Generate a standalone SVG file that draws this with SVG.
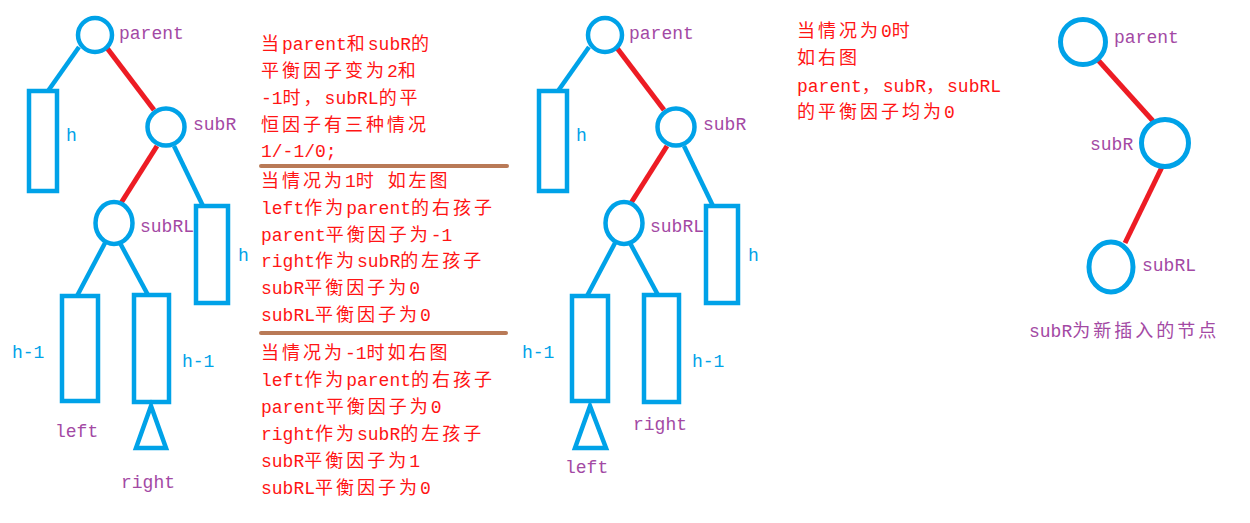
<svg xmlns="http://www.w3.org/2000/svg" width="1250" height="523" viewBox="0 0 1250 523">
<style>
.t{font-family:"Liberation Mono","Noto Sans CJK SC",monospace;font-size:18px}
.r{fill:#ff1414}
.p{fill:#a349a4}
.b{fill:#00a2e8}
.c{letter-spacing:3px}
.n{fill:none;stroke:#00a2e8;stroke-width:4.5}
.e{stroke:#00a2e8;stroke-width:4.5;fill:none}
.re{stroke:#ed1c24;stroke-width:5;fill:none}
.br{stroke:#b97a57;stroke-width:4;stroke-linecap:round}
</style>
<rect width="1250" height="523" fill="#ffffff"/>

<!-- connectors -->
<g id="connectors">
  <!-- left tree -->
  <line class="e" x1="79" y1="47" x2="48" y2="91"/>
  <line class="re" x1="107" y1="48" x2="154" y2="110"/>
  <line class="re" x1="157" y1="146" x2="121" y2="203"/>
  <line class="e" x1="174" y1="146" x2="203" y2="206"/>
  <line class="e" x1="105" y1="243" x2="77" y2="296"/>
  <line class="e" x1="120" y1="243" x2="148" y2="295"/>
  <!-- middle tree -->
  <line class="e" x1="589" y1="47" x2="558" y2="91"/>
  <line class="re" x1="617" y1="48" x2="664" y2="110"/>
  <line class="re" x1="667" y1="146" x2="631" y2="203"/>
  <line class="e" x1="684" y1="146" x2="713" y2="206"/>
  <line class="e" x1="615" y1="243" x2="587" y2="296"/>
  <line class="e" x1="630" y1="243" x2="658" y2="295"/>
  <!-- right tree -->
  <line class="re" x1="1098" y1="60" x2="1153" y2="121"/>
  <line class="re" x1="1162" y1="167" x2="1125" y2="243"/>
</g>

<!-- left tree -->
<g id="L-parent"><circle class="n" cx="95" cy="35" r="17"/><text class="t p" x="119" y="39">parent</text></g>
<g id="L-h"><rect class="n" x="29" y="91" width="28" height="100"/><text class="t b" x="66" y="141">h</text></g>
<g id="L-subR"><circle class="n" cx="166" cy="127" r="18.5"/><text class="t p" x="193" y="130">subR</text></g>
<g id="L-subRL"><ellipse class="n" cx="114" cy="223" rx="18.5" ry="21"/><text class="t p" x="140" y="232">subRL</text></g>
<g id="L-h2"><rect class="n" x="196" y="206" width="32" height="97"/><text class="t b" x="238" y="261">h</text></g>
<g id="L-left"><rect class="n" x="62" y="296" width="36" height="105"/><text class="t b" x="12" y="358">h-1</text><text class="t p" x="55" y="437">left</text></g>
<g id="L-right"><rect class="n" x="134" y="295" width="35" height="107"/><text class="t b" x="182" y="367">h-1</text></g>
<g id="L-new"><polygon class="n" points="151,406 136,448 166,448"/><text class="t p" x="121" y="488">right</text></g>

<!-- middle text -->
<g id="notes">
  <text class="t r" x="261" y="50"><tspan class="c">当</tspan>parent<tspan class="c">和</tspan>subR<tspan class="c">的</tspan></text>
  <text class="t r" x="261" y="77"><tspan class="c">平衡因子变为</tspan>2<tspan class="c">和</tspan></text>
  <text class="t r" x="261" y="104">-1<tspan class="c">时，</tspan>subRL<tspan class="c">的平</tspan></text>
  <text class="t r" x="261" y="131"><tspan class="c">恒因子有三种情况</tspan></text>
  <text class="t r" x="261" y="157">1/-1/0;</text>
  <line class="br" x1="261" y1="166" x2="507" y2="166"/>
  <text class="t r" x="261" y="187"><tspan class="c">当情况为</tspan>1<tspan class="c">时</tspan> <tspan class="c">如左图</tspan></text>
  <text class="t r" x="261" y="214">left<tspan class="c">作为</tspan>parent<tspan class="c">的右孩子</tspan></text>
  <text class="t r" x="261" y="241">parent<tspan class="c">平衡因子为</tspan>-1</text>
  <text class="t r" x="261" y="267">right<tspan class="c">作为</tspan>subR<tspan class="c">的左孩子</tspan></text>
  <text class="t r" x="261" y="294">subR<tspan class="c">平衡因子为</tspan>0</text>
  <text class="t r" x="261" y="321">subRL<tspan class="c">平衡因子为</tspan>0</text>
  <line class="br" x1="261" y1="333" x2="506" y2="333"/>
  <text class="t r" x="261" y="359"><tspan class="c">当情况为</tspan>-1<tspan class="c">时如右图</tspan></text>
  <text class="t r" x="261" y="386">left<tspan class="c">作为</tspan>parent<tspan class="c">的右孩子</tspan></text>
  <text class="t r" x="261" y="413">parent<tspan class="c">平衡因子为</tspan>0</text>
  <text class="t r" x="261" y="440">right<tspan class="c">作为</tspan>subR<tspan class="c">的左孩子</tspan></text>
  <text class="t r" x="261" y="467">subR<tspan class="c">平衡因子为</tspan>1</text>
  <text class="t r" x="261" y="494">subRL<tspan class="c">平衡因子为</tspan>0</text>
</g>

<!-- middle tree -->
<g id="M-parent"><circle class="n" cx="605" cy="35" r="17"/><text class="t p" x="629" y="39">parent</text></g>
<g id="M-h"><rect class="n" x="539" y="91" width="28" height="100"/><text class="t b" x="576" y="141">h</text></g>
<g id="M-subR"><circle class="n" cx="676" cy="127" r="18.5"/><text class="t p" x="703" y="130">subR</text></g>
<g id="M-subRL"><ellipse class="n" cx="624" cy="223" rx="18.5" ry="21"/><text class="t p" x="650" y="232">subRL</text></g>
<g id="M-h2"><rect class="n" x="706" y="206" width="32" height="97"/><text class="t b" x="748" y="261">h</text></g>
<g id="M-left"><rect class="n" x="572" y="296" width="36" height="105"/><text class="t b" x="522" y="358">h-1</text></g>
<g id="M-right"><rect class="n" x="644" y="295" width="35" height="107"/><text class="t b" x="692" y="367">h-1</text><text class="t p" x="633" y="430">right</text></g>
<g id="M-new"><polygon class="n" points="590,406 575,448 606,448"/><text class="t p" x="565" y="473">left</text></g>

<!-- right side -->
<g id="case0">
  <text class="t r" x="797" y="37"><tspan class="c">当情况为</tspan>0<tspan class="c">时</tspan></text>
  <text class="t r" x="797" y="64"><tspan class="c">如右图</tspan></text>
  <text class="t r" x="797" y="92">parent<tspan class="c">，</tspan>subR<tspan class="c">，</tspan>subRL</text>
  <text class="t r" x="797" y="118"><tspan class="c">的平衡因子均为</tspan>0</text>
</g>
<g id="R-parent"><circle class="n" cx="1083" cy="42" r="22.5" style="stroke-width:5"/><text class="t p" x="1114" y="43">parent</text></g>
<g id="R-subR"><circle class="n" cx="1165" cy="143" r="23.5" style="stroke-width:5"/><text class="t p" x="1090" y="150">subR</text></g>
<g id="R-subRL"><ellipse class="n" cx="1111" cy="267" rx="22" ry="25" style="stroke-width:5"/><text class="t p" x="1142" y="271">subRL</text></g>
<g id="R-caption"><text class="t p" x="1029" y="337">subR<tspan class="c">为新插入的节点</tspan></text></g>
</svg>
